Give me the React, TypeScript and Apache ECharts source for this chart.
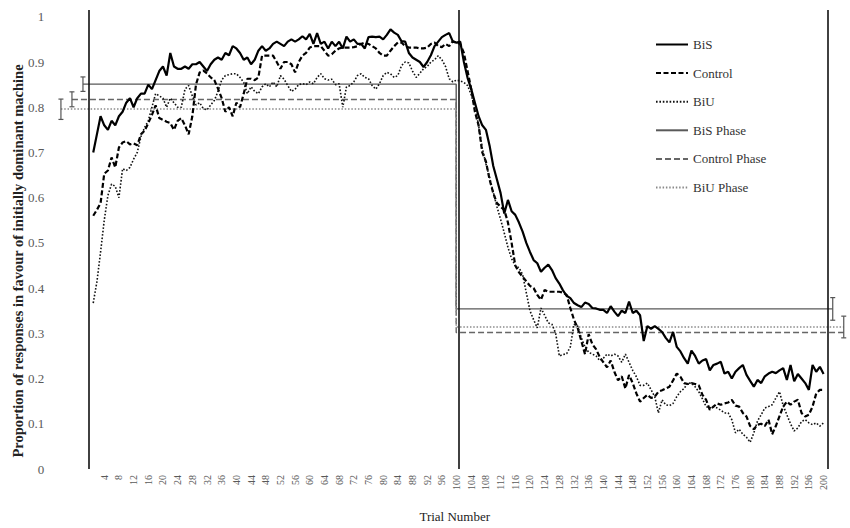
import React, { useEffect, useRef } from "react";
import * as echarts from "echarts";

// Trial-by-trial proportions (trials 1..200)
const bis: number[] = [
  0.70, 0.74, 0.78, 0.76, 0.75, 0.77, 0.76, 0.78, 0.79, 0.81,
  0.82, 0.80, 0.82, 0.83, 0.83, 0.85, 0.84, 0.86, 0.88, 0.89,
  0.87, 0.92, 0.89, 0.885, 0.885, 0.89, 0.885, 0.895, 0.895, 0.90,
  0.89, 0.88, 0.895, 0.905, 0.91, 0.905, 0.92, 0.915, 0.935, 0.93,
  0.92, 0.905, 0.91, 0.895, 0.905, 0.925, 0.935, 0.925, 0.93, 0.94,
  0.945, 0.94, 0.935, 0.945, 0.95, 0.945, 0.95, 0.957, 0.95, 0.962,
  0.94, 0.964, 0.94, 0.945, 0.93, 0.945, 0.935, 0.945, 0.93, 0.956,
  0.945, 0.95, 0.94, 0.94, 0.93, 0.955, 0.956, 0.955, 0.956, 0.95,
  0.96, 0.972, 0.965, 0.96, 0.946, 0.945, 0.92, 0.91, 0.905, 0.90,
  0.889, 0.90, 0.915, 0.935, 0.945, 0.955, 0.96, 0.964, 0.945, 0.943,
  0.945, 0.90, 0.865, 0.84, 0.81, 0.78, 0.76, 0.75, 0.715, 0.67,
  0.64, 0.61, 0.565, 0.595, 0.57, 0.562, 0.545, 0.525, 0.50, 0.48,
  0.462, 0.455, 0.436, 0.445, 0.452, 0.44, 0.422, 0.41, 0.395, 0.383,
  0.378, 0.367, 0.362, 0.358, 0.368, 0.365, 0.356, 0.355, 0.352, 0.352,
  0.345, 0.36, 0.348, 0.338, 0.35, 0.345, 0.37, 0.345, 0.35, 0.34,
  0.283, 0.316, 0.31, 0.316, 0.31, 0.303, 0.29, 0.28, 0.303, 0.27,
  0.26, 0.245, 0.233, 0.262, 0.25, 0.233, 0.24, 0.243, 0.218, 0.23,
  0.233, 0.237, 0.211, 0.215, 0.20, 0.215, 0.223, 0.23, 0.208, 0.195,
  0.182, 0.197, 0.19, 0.205, 0.211, 0.215, 0.212, 0.218, 0.223, 0.197,
  0.23, 0.194, 0.21, 0.20, 0.19, 0.175, 0.23, 0.215, 0.226, 0.21,
];

const control: number[] = [
  0.56, 0.573, 0.588, 0.653, 0.66, 0.689, 0.667, 0.711, 0.722, 0.725,
  0.718, 0.72, 0.716, 0.74, 0.748, 0.765, 0.783, 0.804, 0.776, 0.772,
  0.768, 0.765, 0.75, 0.77, 0.776, 0.76, 0.74, 0.78, 0.85, 0.877,
  0.881, 0.875, 0.866, 0.86, 0.841, 0.82, 0.79, 0.80, 0.78, 0.81,
  0.80, 0.83, 0.863, 0.863, 0.86, 0.866, 0.914, 0.914, 0.914, 0.914,
  0.90, 0.885, 0.90, 0.90, 0.895, 0.877, 0.90, 0.914, 0.92, 0.932,
  0.935, 0.935, 0.935, 0.925, 0.914, 0.917, 0.925, 0.93, 0.932, 0.932,
  0.932, 0.933, 0.935, 0.94, 0.943, 0.94, 0.935, 0.93, 0.92, 0.914,
  0.914, 0.925, 0.935, 0.943, 0.943, 0.935, 0.932, 0.932, 0.932, 0.93,
  0.93, 0.932, 0.94, 0.943, 0.935, 0.933, 0.94, 0.935, 0.946, 0.943,
  0.94, 0.92, 0.88, 0.84, 0.79, 0.76, 0.70, 0.68, 0.64, 0.61,
  0.588, 0.58, 0.573, 0.545, 0.50, 0.45, 0.435, 0.425, 0.415, 0.405,
  0.40, 0.385, 0.374, 0.396, 0.392, 0.392, 0.392, 0.392, 0.39, 0.385,
  0.356, 0.33, 0.312, 0.283, 0.254, 0.298, 0.276, 0.265, 0.248, 0.236,
  0.225, 0.24, 0.215, 0.196, 0.205, 0.178, 0.208, 0.19, 0.167, 0.149,
  0.157, 0.164, 0.157, 0.16, 0.171, 0.174, 0.178, 0.182, 0.196, 0.211,
  0.204, 0.19, 0.188, 0.19, 0.188, 0.185, 0.164, 0.153, 0.131, 0.138,
  0.145, 0.142, 0.145, 0.147, 0.153, 0.14, 0.138, 0.124, 0.116, 0.095,
  0.088, 0.098, 0.10, 0.095, 0.109, 0.077, 0.095, 0.117, 0.138, 0.149,
  0.142, 0.149, 0.153, 0.124, 0.116, 0.12, 0.138, 0.167, 0.175, 0.175,
];

const biu: number[] = [
  0.367, 0.414, 0.48, 0.55, 0.605, 0.63, 0.625, 0.60, 0.664, 0.66,
  0.667, 0.685, 0.70, 0.735, 0.755, 0.77, 0.80, 0.83, 0.825, 0.82,
  0.80, 0.82, 0.81, 0.80, 0.80, 0.84, 0.848, 0.825, 0.805, 0.81,
  0.797, 0.794, 0.805, 0.815, 0.835, 0.86, 0.87, 0.872, 0.874, 0.874,
  0.866, 0.855, 0.83, 0.845, 0.835, 0.83, 0.845, 0.852, 0.845, 0.856,
  0.845, 0.87, 0.862, 0.848, 0.835, 0.84, 0.85, 0.852, 0.85, 0.856,
  0.852, 0.866, 0.874, 0.863, 0.86, 0.862, 0.85, 0.852, 0.80, 0.845,
  0.848, 0.856, 0.87, 0.874, 0.866, 0.863, 0.848, 0.84, 0.852, 0.87,
  0.877, 0.874, 0.866, 0.87, 0.892, 0.90, 0.898, 0.88, 0.866, 0.875,
  0.885, 0.89, 0.90, 0.905, 0.914, 0.905, 0.89, 0.863, 0.856, 0.86,
  0.858, 0.855, 0.848, 0.827, 0.80, 0.76, 0.71, 0.675, 0.645, 0.612,
  0.58, 0.552, 0.522, 0.49, 0.465, 0.45, 0.445, 0.43, 0.39, 0.35,
  0.33, 0.312, 0.356, 0.34, 0.323, 0.32, 0.30, 0.25, 0.253, 0.255,
  0.27, 0.32, 0.316, 0.29, 0.27, 0.258, 0.254, 0.25, 0.24, 0.245,
  0.254, 0.25, 0.254, 0.25, 0.236, 0.254, 0.236, 0.218, 0.204, 0.185,
  0.185, 0.19, 0.175, 0.16, 0.124, 0.153, 0.142, 0.14, 0.145, 0.16,
  0.171, 0.178, 0.19, 0.19, 0.182, 0.171, 0.155, 0.138, 0.135, 0.138,
  0.135, 0.13, 0.124, 0.124, 0.109, 0.08, 0.088, 0.077, 0.07, 0.059,
  0.08, 0.106, 0.12, 0.135, 0.138, 0.142, 0.157, 0.171, 0.14, 0.12,
  0.10, 0.084, 0.091, 0.105, 0.109, 0.102, 0.098, 0.102, 0.095, 0.102,
];

// Phase means (order: BiS, Control, BiU)
const phaseNames = ["BiS Phase", "Control Phase", "BiU Phase"];
const phase1Mean = [0.851, 0.817, 0.796];
const phase2Mean = [0.354, 0.302, 0.314];
// x positions where each phase line starts (left) / ends (right), at its error bar
const phase1Start = [-1.8, -4.8, -7.8];
const phase2End = [202.5, 205.5, 205.5];
const phaseBreak = 99.9;

// Error bars: [x, low, high]
const errorBars: number[][] = [
  [-1.8, 0.835, 0.867],
  [-4.8, 0.801, 0.834],
  [-7.8, 0.773, 0.818],
  [202.5, 0.329, 0.379],
  [205.5, 0.29, 0.338],
];

// Vertical boundary lines
const dividers = [-0.35, 100.5, 201.1];

const serif = "Liberation Serif";

export default function App() {
  const ref = useRef<HTMLDivElement>(null);

  useEffect(() => {
    if (!ref.current) return;
    const chart = echarts.init(ref.current, undefined, { renderer: "svg" });

    const toPts = (arr: number[]) => arr.map((v, i) => [i + 1, v]);
    const phaseData = (k: number) => [
      [phase1Start[k], phase1Mean[k]],
      [phaseBreak, phase1Mean[k]],
      [phaseBreak, phase2Mean[k]],
      [phase2End[k], phase2Mean[k]],
    ];

    const phaseStyles = [
      { color: "#595959", width: 1.4, type: "solid" as any },
      { color: "#666666", width: 1.4, type: [6, 3] as any },
      { color: "#8a8a8a", width: 1.4, type: [1.5, 1.8] as any },
    ];

    const option: any = {
      animation: false,
      backgroundColor: "#ffffff",
      grid: { left: 60.2, right: 0.75, top: 10, bottom: 51, containLabel: false },
      legend: {
        orient: "vertical",
        left: 655,
        top: 38,
        padding: 0,
        itemWidth: 32,
        itemHeight: 14,
        itemGap: 15.6,
        itemStyle: { color: "rgba(0,0,0,0)", borderColor: "rgba(0,0,0,0)", borderWidth: 0, opacity: 0 },
        textStyle: { fontFamily: serif, fontSize: 13, color: "#333" },
        data: ["BiS", "Control", "BiU", ...phaseNames],
      },
      xAxis: {
        type: "value",
        min: -8,
        max: 207,
        interval: 4,
        name: "Trial Number",
        nameLocation: "middle",
        nameGap: 41,
        nameTextStyle: { fontFamily: serif, fontSize: 13, color: "#222" },
        axisLine: { show: false },
        axisTick: { show: false },
        splitLine: { show: false },
        axisLabel: {
          rotate: 90,
          margin: 6,
          fontFamily: serif,
          fontSize: 10,
          color: "#595959",
          showMaxLabel: false,
          formatter: (v: number) => (v >= 4 && v <= 200 ? String(v) : ""),
        },
      },
      yAxis: {
        type: "value",
        min: 0,
        max: 1.015,
        interval: 0.1,
        axisLine: { show: false },
        axisTick: { show: false },
        splitLine: { show: false },
        axisLabel: {
          margin: 16,
          fontFamily: serif,
          fontSize: 13,
          color: "#595959",
          showMaxLabel: false,
          formatter: (v: number) => (v > 1.0001 ? "" : String(Number(v.toFixed(1)))),
        },
      },
      graphic: [
        {
          type: "text",
          x: 18,
          y: 261,
          rotation: Math.PI / 2,
          style: {
            text: "Proportion of responses in favour of initially dominant machine",
            font: `bold 14.5px ${serif}`,
            fill: "#222",
            textAlign: "center",
            textVerticalAlign: "middle",
          },
        },
      ],
      series: [
        {
          name: "dividers",
          type: "line",
          data: [],
          silent: true,
          markLine: {
            silent: true,
            symbol: "none",
            label: { show: false },
            lineStyle: { color: "#111", width: 1.6, type: "solid" },
            data: dividers.map((d) => ({ xAxis: d })),
          },
        },
        ...phaseNames.map((n, k) => ({
          name: n,
          type: "line",
          data: phaseData(k),
          symbol: "none",
          color: phaseStyles[k].color,
          lineStyle: phaseStyles[k],
          z: 2,
        })),
        {
          name: "errbars",
          type: "custom",
          data: errorBars,
          encode: { x: 0, y: [1, 2] },
          z: 3,
          renderItem: (params: any, api: any) => {
            const x = api.value(0);
            const p1 = api.coord([x, api.value(1)]);
            const p2 = api.coord([x, api.value(2)]);
            const w = 2.5;
            const st = { stroke: "#555", lineWidth: 1.2 };
            return {
              type: "group",
              children: [
                { type: "line", shape: { x1: p1[0], y1: p1[1], x2: p2[0], y2: p2[1] }, style: st },
                { type: "line", shape: { x1: p1[0] - w, y1: p1[1], x2: p1[0] + w, y2: p1[1] }, style: st },
                { type: "line", shape: { x1: p2[0] - w, y1: p2[1], x2: p2[0] + w, y2: p2[1] }, style: st },
              ],
            };
          },
        },
        {
          name: "BiS",
          type: "line",
          data: toPts(bis),
          symbol: "none",
          color: "#000",
          lineStyle: { color: "#000", width: 2.2, type: "solid" },
          z: 5,
        },
        {
          name: "Control",
          type: "line",
          data: toPts(control),
          symbol: "none",
          color: "#000",
          lineStyle: { color: "#000", width: 2.2, type: [5, 2.5] },
          z: 5,
        },
        {
          name: "BiU",
          type: "line",
          data: toPts(biu),
          symbol: "none",
          color: "#000",
          lineStyle: { color: "#111", width: 1.6, type: [1.6, 1.8] },
          z: 5,
        },
      ],
    };

    chart.setOption(option);
    return () => chart.dispose();
  }, []);

  return (
    <div
      ref={ref}
      style={{ position: "absolute", left: 0, top: 0, width: 850, height: 528, background: "#fff" }}
    />
  );
}
